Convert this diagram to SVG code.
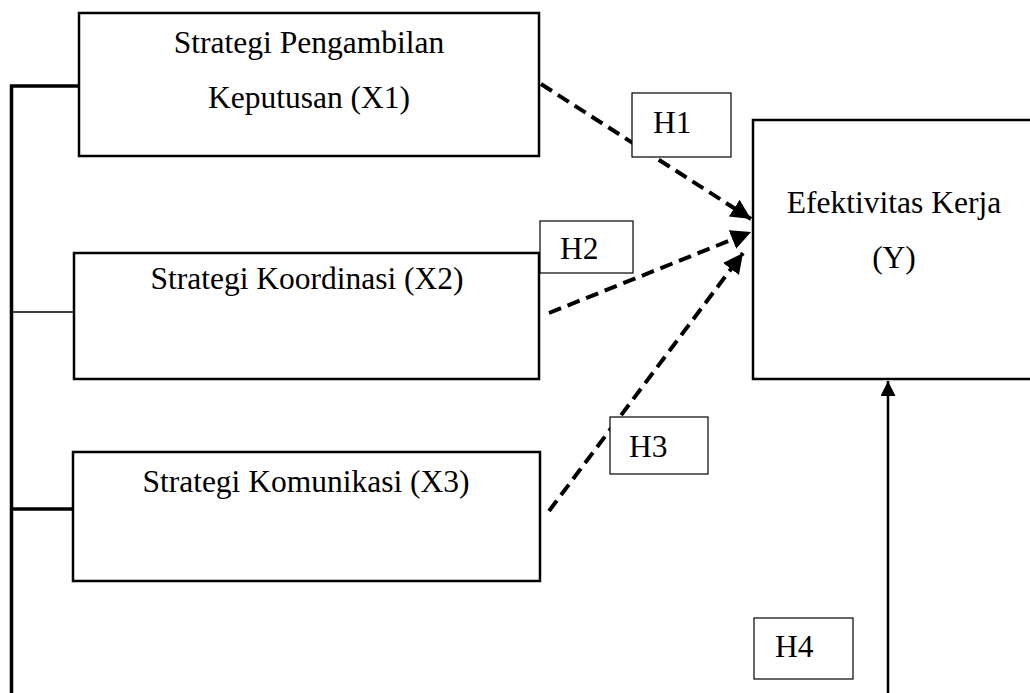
<svg xmlns="http://www.w3.org/2000/svg" width="1030" height="693" viewBox="0 0 1030 693">
<style>
.box{fill:#fff;stroke:#000;stroke-width:2.5}
.hbox{fill:#fff;stroke:#000;stroke-width:1.2}
.t{font-family:"Liberation Serif","Times New Roman",serif;font-size:31.5px;fill:#000}
.dash{fill:none;stroke:#000;stroke-width:4;stroke-dasharray:13 7}
.solid{fill:none;stroke:#000}
</style>
<defs>
<marker id="ah" viewBox="0 0 10 10" refX="10" refY="5" markerWidth="5" markerHeight="5" markerUnits="strokeWidth" orient="auto">
<path d="M0,0 L10,5 L0,10 z" fill="#000"/>
</marker>
<marker id="ah2" viewBox="0 0 10 10" refX="10" refY="5" markerWidth="7" markerHeight="6" markerUnits="strokeWidth" orient="auto">
<path d="M0,0 L10,5 L0,10 z" fill="#000"/>
</marker>
</defs>
<rect width="1030" height="693" fill="#fff"/>
<g id="connectors">
<path class="solid" d="M11.5,693 V86 H79" stroke-width="3.5"/>
<path class="solid" d="M11.5,312 H74" stroke-width="1.5"/>
<path class="solid" d="M11.5,509 H73" stroke-width="3.5"/>
<path class="dash" d="M541,84 L751,219" marker-end="url(#ah)"/>
<path class="dash" d="M549,313 L751,232" marker-end="url(#ah)"/>
<path class="dash" d="M549,511 L743,253" marker-end="url(#ah)"/>
<path class="solid" d="M888,693 V381" stroke-width="2.5" marker-end="url(#ah2)"/>
</g>
<g id="node-x1">
<rect class="box" x="79" y="13" width="460" height="143"/>
<text class="t" x="309" y="53" text-anchor="middle">Strategi Pengambilan</text>
<text class="t" x="309" y="108" text-anchor="middle">Keputusan (X1)</text>
</g>
<g id="node-x2">
<rect class="box" x="74" y="253" width="465" height="126"/>
<text class="t" x="307" y="289" text-anchor="middle">Strategi Koordinasi (X2)</text>
</g>
<g id="node-x3">
<rect class="box" x="73" y="452" width="467" height="129"/>
<text class="t" x="306" y="492" text-anchor="middle">Strategi Komunikasi (X3)</text>
</g>
<g id="node-y">
<rect class="box" x="753" y="120" width="290" height="259"/>
<text class="t" x="894" y="213" text-anchor="middle">Efektivitas Kerja</text>
<text class="t" x="894" y="268" text-anchor="middle">(Y)</text>
</g>
<g id="label-h1">
<rect class="hbox" x="632" y="93" width="99" height="64"/>
<text class="t" x="653" y="133">H1</text>
</g>
<g id="label-h2">
<rect class="hbox" x="540" y="221" width="93" height="52"/>
<text class="t" x="560" y="259">H2</text>
</g>
<g id="label-h3">
<rect class="hbox" x="610" y="417" width="98" height="57"/>
<text class="t" x="629" y="457">H3</text>
</g>
<g id="label-h4">
<rect class="hbox" x="754" y="618" width="99" height="61"/>
<text class="t" x="775" y="657">H4</text>
</g>
</svg>
